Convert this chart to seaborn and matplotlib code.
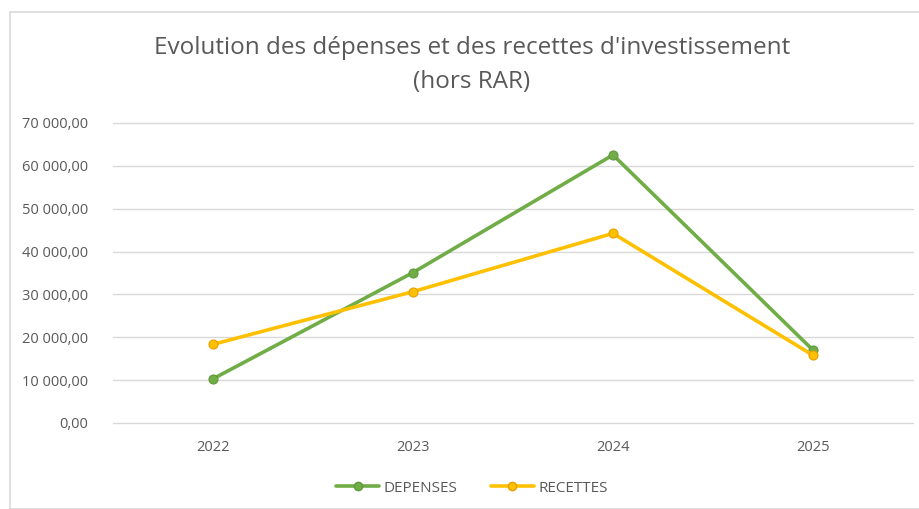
import matplotlib
matplotlib.use("Agg")
import matplotlib.pyplot as plt
import matplotlib.ticker as mticker
from matplotlib.patches import Rectangle
from matplotlib.lines import Line2D
import pandas as pd
import seaborn as sns

# ── Data ───────────────────────────────────────────────────────
years = ["2022", "2023", "2024", "2025"]
depenses = [10300, 35100, 62550, 17000]
recettes = [18350, 30650, 44250, 15800]
series_names = ["DEPENSES", "RECETTES"]
colors = {"DEPENSES": "#70AD47", "RECETTES": "#FFC000"}
edge_colors = {"DEPENSES": "#5E9A3A", "RECETTES": "#E8A000"}

df = pd.DataFrame({
    "annee": years * 2,
    "valeur": depenses + recettes,
    "serie": [series_names[0]] * len(years) + [series_names[1]] * len(years),
})


def fr_fmt(v, pos):
    s = f"{v:,.2f}"
    return s.replace(",", " ").replace(".", ",")


sns.set_style("white")
plt.rcParams["font.family"] = ["Open Sans", "DejaVu Sans"]

fig = plt.figure(figsize=(9.19, 5.09), dpi=100)
ax = fig.add_axes([113 / 919, 1 - 423 / 509, 800 / 919, 300 / 509])

sns.lineplot(data=df, x="annee", y="valeur", hue="serie", palette=colors,
             marker="o", markersize=6.5, linewidth=2.6, ax=ax, legend=False, sort=False)

# marker edges
for line, name in zip(ax.get_lines(), series_names):
    line.set_markeredgecolor(edge_colors[name])
    line.set_markeredgewidth(0.8)

ax.set_xlim(-0.5, 3.5)
ax.set_ylim(0, 70000)
ax.yaxis.set_major_locator(mticker.MultipleLocator(10000))
ax.yaxis.set_major_formatter(mticker.FuncFormatter(fr_fmt))
ax.grid(axis="y", color="#D9D9D9", linewidth=1)
for gl in ax.get_ygridlines():
    gl.set_clip_on(False)
ax.set_axisbelow(True)
for s in ax.spines.values():
    s.set_visible(False)
ax.tick_params(axis="both", length=0, labelsize=10.5, colors="#595959")
ax.tick_params(axis="y", pad=18)
ax.tick_params(axis="x", pad=12)
ax.set_xlabel("")
ax.set_ylabel("")

fig.text(472 / 919, 1 - 65 / 509,
         "Evolution des dépenses et des recettes d'investissement\n(hors RAR)",
         ha="center", va="center", fontsize=17.5, color="#595959", linespacing=1.55)

# legend
handles = [Line2D([], [], color=colors[n], marker="o", markersize=6, linewidth=2.6,
                  markeredgecolor=edge_colors[n]) for n in series_names]
fig.legend(handles, series_names, loc="center", bbox_to_anchor=(472 / 919, 1 - 488 / 509),
           ncol=2, frameon=False, fontsize=11, labelcolor="#595959",
           handlelength=2.8, columnspacing=2.2, handletextpad=0.3)

# outer frame
fig.patches.append(Rectangle((10 / 919, 0), 1, 1 - 12 / 509, transform=fig.transFigure,
                             fill=False, edgecolor="#D9D9D9", linewidth=1.2))

fig.savefig("out.png", dpi=100)
